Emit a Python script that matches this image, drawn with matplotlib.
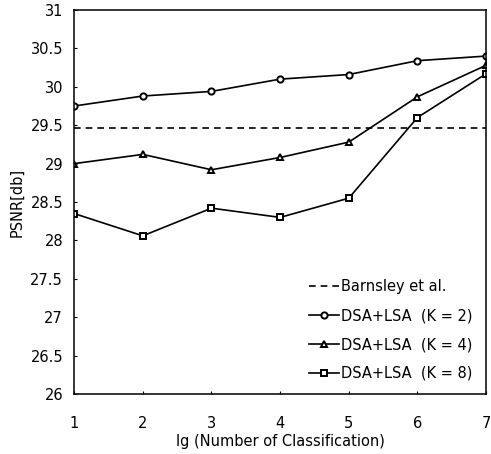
import matplotlib
matplotlib.use("Agg")
import matplotlib.pyplot as plt

x = [1, 2, 3, 4, 5, 6, 7]
barnsley = 29.47
k2 = [29.75, 29.88, 29.94, 30.10, 30.16, 30.34, 30.40]
k4 = [29.00, 29.12, 28.92, 29.08, 29.28, 29.87, 30.28]
k8 = [28.35, 28.06, 28.42, 28.30, 28.55, 29.60, 30.17]
labels = ["Barnsley et al.", "DSA+LSA  (K = 2)", "DSA+LSA  (K = 4)", "DSA+LSA  (K = 8)"]
yticks = [26, 26.5, 27, 27.5, 28, 28.5, 29, 29.5, 30, 30.5, 31]
ytick_labels = ["26", "26.5", "27", "27.5", "28", "28.5", "29", "29.5", "30", "30.5", "31"]

plt.rcParams['font.family'] = ['DejaVu Sans']
fig = plt.figure(figsize=(4.91, 4.54), dpi=100)
ax = fig.add_axes([0.151, 0.132, 0.839, 0.846])

ax.plot([x[0], x[-1]], [barnsley, barnsley], color='black', linestyle=(0, (4, 3)), lw=1.2, label=labels[0])
ax.plot(x, k2, color='black', lw=1.2, marker='o', markersize=4.5, markerfacecolor='white',
        markeredgecolor='black', markeredgewidth=1.4, label=labels[1])
ax.plot(x, k4, color='black', lw=1.2, marker='^', markersize=4.5, markerfacecolor='white',
        markeredgecolor='black', markeredgewidth=1.4, label=labels[2])
ax.plot(x, k8, color='black', lw=1.2, marker='s', markersize=4.5, markerfacecolor='white',
        markeredgecolor='black', markeredgewidth=1.4, label=labels[3])

ax.set_xlim(1, 7)
ax.set_ylim(26, 31)
ax.set_xticks(x)
ax.set_xticklabels([str(v) for v in x], fontsize=10.5)
ax.set_yticks(yticks)
ax.set_yticklabels(ytick_labels, fontsize=10.5)
ax.tick_params(axis='both', direction='in', length=2)
ax.tick_params(axis='x', pad=16)
ax.tick_params(axis='y', pad=8)
for s in ax.spines.values():
    s.set_linewidth(1.1)
ax.set_xlabel("lg (Number of Classification)", fontsize=10.5, labelpad=2)
ax.set_ylabel("PSNR[db]", fontsize=10.5, labelpad=4)

ax.legend(loc='lower right', frameon=False, fontsize=10.5, handlelength=2.0,
          handletextpad=0.2, labelspacing=0.95, borderaxespad=0.5)

fig.savefig("out.png", dpi=100)
